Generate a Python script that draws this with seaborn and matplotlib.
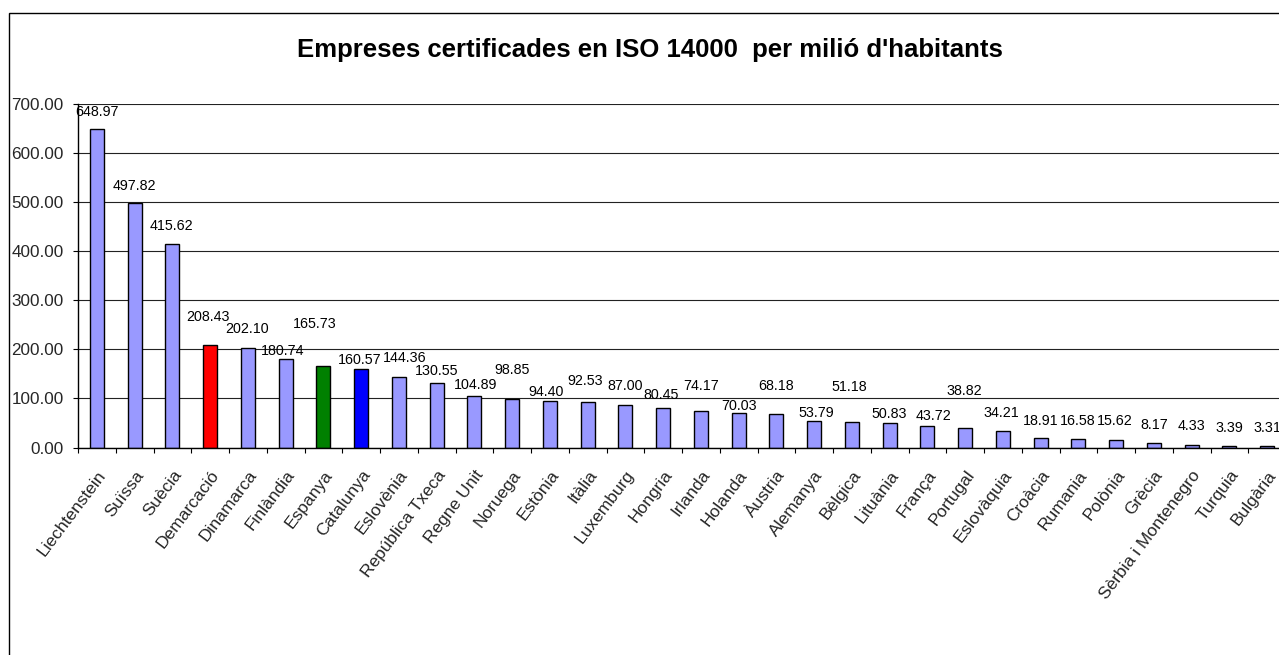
import numpy as np
import matplotlib
matplotlib.use("Agg")
import matplotlib.pyplot as plt
from matplotlib.patches import Rectangle
import seaborn as sns

# ---- data ----
countries = ["Liechtenstein", "Suïssa", "Suècia", "Demarcació", "Dinamarca", "Finlàndia",
             "Espanya", "Catalunya", "Eslovènia", "República Txeca", "Regne Unit", "Noruega",
             "Estònia", "Itàlia", "Luxemburg", "Hongria", "Irlanda", "Holanda", "Àustria",
             "Alemanya", "Bèlgica", "Lituània", "França", "Portugal", "Eslovàquia", "Croàcia",
             "Rumania", "Polònia", "Grècia", "Sèrbia i Montenegro", "Turquia", "Bulgària"]
values = [648.97, 497.82, 415.62, 208.43, 202.10, 180.74, 165.73, 160.57, 144.36, 130.55,
          104.89, 98.85, 94.40, 92.53, 87.00, 80.45, 74.17, 70.03, 68.18, 53.79, 51.18,
          50.83, 43.72, 38.82, 34.21, 18.91, 16.58, 15.62, 8.17, 4.33, 3.39, 3.31]
y_ticks = [0, 100, 200, 300, 400, 500, 600, 700]
title = "Empreses certificades en ISO 14000  per milió d'habitants"

# ---- styles ----
highlight = {"Demarcació": "#FF0000", "Espanya": "#008000", "Catalunya": "#0000FF"}
base_color = "#9999FF"
palette = {c: highlight.get(c, base_color) for c in countries}
# placement of each value label as in the original (y in data units, dx in category units)
label_y = [685, 533, 451, 265.5, 241.7, 196.8, 251.9, 178.5, 183.2, 156, 127.5, 158, 112.6,
           136, 125.4, 107, 125.4, 84.6, 125.4, 69.7, 122.8, 68.3, 64.2, 115.9, 71, 54.7,
           54.7, 54.7, 45.9, 43.8, 39, 39]
label_dx = [0, 0, -0.03, -0.05, -0.03, -0.07, -0.24, -0.05, 0.16, 0, 0.02, 0, -0.1,
            -0.07, 0, -0.05, 0, 0, 0, 0.05, -0.08, 0, 0.15, -0.03, -0.04, 0, -0.03,
            -0.03, 0, 0, 0, 0]

sns.set_style("white")
plt.rcParams["font.family"] = ["Liberation Sans", "DejaVu Sans"]

W, H = 1279, 655
fig = plt.figure(figsize=(W / 100, H / 100), dpi=100)
fig.patch.set_facecolor("white")

x0, x1 = 78, 1286
y0, y1 = 447.5, 104.3
ax = fig.add_axes([x0 / W, 1 - y0 / H, (x1 - x0) / W, (y0 - y1) / H])
ax.set_facecolor("white")

sns.barplot(x=countries, y=values, hue=countries, palette=palette, order=countries,
            hue_order=countries, width=0.37, edgecolor="black", linewidth=1.0,
            saturation=1, legend=False, ax=ax, zorder=3)

ax.set_xlim(-0.5, len(countries) - 0.5)
ax.set_ylim(0, 700)
ax.set_xlabel("")
ax.set_ylabel("")

# grid
ax.set_yticks(y_ticks)
ax.set_yticklabels([f"{v:.2f}" for v in y_ticks], fontsize=12.3)
ax.yaxis.grid(True, color="#222222", linewidth=0.8, zorder=0)
ax.xaxis.grid(False)
ax.set_axisbelow(True)

for s in ["top", "right"]:
    ax.spines[s].set_visible(False)
for s in ["left", "bottom"]:
    ax.spines[s].set_color("black")
    ax.spines[s].set_linewidth(1.0)
    ax.spines[s].set_zorder(4)

ax.tick_params(axis="y", which="major", length=3.8, width=0.8, color="black",
               direction="out", pad=6.5, left=True)

ax.set_xticks(range(len(countries)))
ax.set_xticklabels(countries, rotation=53, ha="right", va="top",
                   rotation_mode="anchor", fontsize=12.5)
ax.tick_params(axis="x", which="major", length=0, pad=14.5)
ax.set_xticks(np.arange(-0.5, len(countries), 1.0), minor=True)
ax.tick_params(axis="x", which="minor", length=3.8, width=0.8, color="black",
               direction="out", bottom=True)

# value labels
for i, (v, ly, dx) in enumerate(zip(values, label_y, label_dx)):
    ax.text(i + dx, ly, f"{v:.2f}", ha="center", va="center", fontsize=10.3,
            color="black", zorder=5)

# title
fig.text(650 / W, 1 - 50 / H, title, ha="center", va="center",
         fontsize=18.5, fontweight="bold", color="black")

# outer chart frame (extends beyond the visible image on right and bottom)
fig.add_artist(Rectangle((9.3 / W, -0.1), 1.2, 1 - 13.3 / H + 0.1,
                         transform=fig.transFigure, fill=False,
                         edgecolor="black", linewidth=1.0))

fig.savefig("out.png", dpi=100, facecolor="white")
